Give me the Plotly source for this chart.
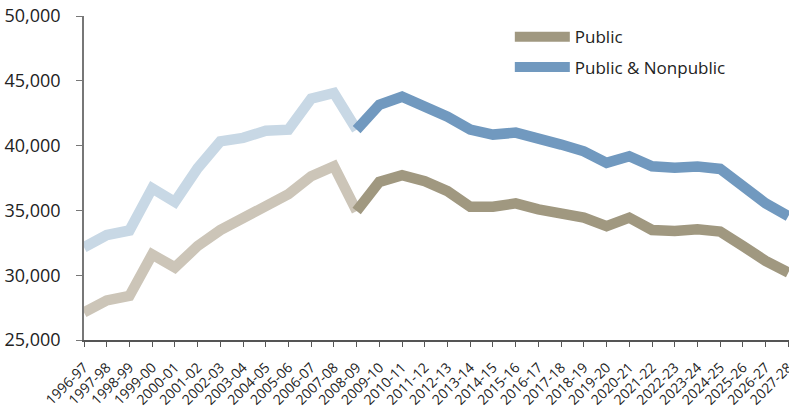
import plotly.graph_objects as go

years = ["1996-97","1997-98","1998-99","1999-00","2000-01","2001-02","2002-03","2003-04",
         "2004-05","2005-06","2006-07","2007-08","2008-09","2009-10","2010-11","2011-12",
         "2012-13","2013-14","2014-15","2015-16","2016-17","2017-18","2018-19","2019-20",
         "2020-21","2021-22","2022-23","2023-24","2024-25","2025-26","2026-27","2027-28"]

public_nonpublic = [32150, 33100, 33450, 36700, 35650, 38250, 40330, 40600,
                    41150, 41230, 43620, 44060, 41230, 43150, 43770, 43030,
                    42230, 41230, 40850, 41000, 40600, 40080, 39560, 38670,
                    39180, 38410, 38300, 38380, 38200, 36920, 35540, 34550]

public = [27130, 28050, 28400, 31600, 30600, 32250, 33480, 34360,
          35200, 36250, 37640, 38410, 34950, 37200, 37720, 37250,
          36490, 35280, 35280, 35540, 35080, 34820, 34440, 33790,
          34440, 33490, 33410, 33540, 33360, 32250, 31100, 30210]

split = years.index("2008-09")
idx = list(range(len(years)))

C_PUB_D = "#A09880"
C_PUB_L = "#CCC5B8"
C_PN_D = "#7199BF"
C_PN_L = "#C8D8E5"
LW = 10.5

fig = go.Figure()
fig.add_trace(go.Scatter(x=idx[:split + 1], y=public_nonpublic[:split + 1], mode="lines",
                         line=dict(color=C_PN_L, width=LW), showlegend=False, hoverinfo="skip"))
fig.add_trace(go.Scatter(x=idx[:split + 1], y=public[:split + 1], mode="lines",
                         line=dict(color=C_PUB_L, width=LW), showlegend=False, hoverinfo="skip"))
fig.add_trace(go.Scatter(x=idx[split:], y=public[split:], mode="lines", name="Public",
                         legendgroup="a", line=dict(color=C_PUB_D, width=LW)))
fig.add_trace(go.Scatter(x=idx[split:], y=public_nonpublic[split:], mode="lines",
                         legendgroup="b", name="Public &amp; Nonpublic",
                         line=dict(color=C_PN_D, width=LW)))

fig.update_layout(
    width=789, height=407,
    margin=dict(l=84, r=0, t=16, b=67, autoexpand=False),
    paper_bgcolor="white", plot_bgcolor="white",
    font=dict(family="Open Sans, sans-serif", color="#222222"),
    legend=dict(x=0.604, y=0.99, xanchor="left", yanchor="top",
                font=dict(size=17, color="#222222"), bgcolor="rgba(0,0,0,0)",
                itemwidth=55, tracegroupgap=5),
    xaxis=dict(range=[0, 31.03], tickmode="array", tickvals=idx, ticktext=years,
               tickangle=-45, tickfont=dict(size=14, color="#222222"), automargin=False,
               ticklabeloverflow="allow", ticklabelstandoff=7,
               showgrid=False, zeroline=False, showline=True, linecolor="#555555",
               linewidth=1.5, ticks="outside", ticklen=5, tickcolor="#555555"),
    yaxis=dict(range=[25000, 50000], dtick=5000, tickformat=",", automargin=False,
               tickfont=dict(size=18, color="#222222"), ticklabelstandoff=12,
               showgrid=False, zeroline=False, showline=True, linecolor="#777777",
               linewidth=1.5, ticks="outside", ticklen=6, tickcolor="#777777"),
)

fig.write_html("out.html", config={"displayModeBar": False},
               post_script="document.body.style.margin='0';")
